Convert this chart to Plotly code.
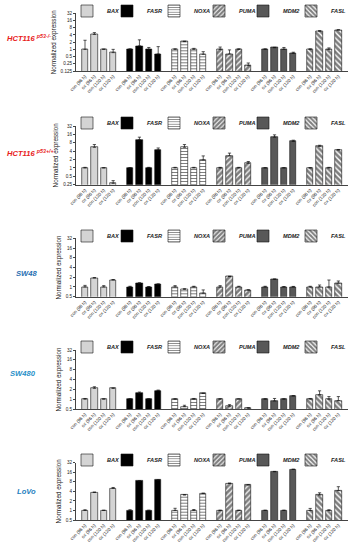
import math
import plotly.graph_objects as go

# ---------------- data ----------------
genes = ["BAX", "FASR", "NOXA", "PUMA", "MDM2", "FASL"]
conditions = ["con (96 h)", "ox (96 h)", "con (120 h)", "ox (120 h)"]
cell_lines = ["HCT116 <sup>p53-/-</sup>", "HCT116 <sup>p53+/+</sup>", "SW48", "SW480", "LoVo"]
label_colors = ["#e8211b", "#e8211b", "#1f6fb2", "#1f8fc8", "#1f7fc0"]

# mean expression per gene (rows) and condition (columns)
hct116_ko_mean = [
    [1.0, 4.2, 1.0, 0.73],
    [1.0, 1.4, 1.0, 0.64],
    [1.0, 2.1, 1.0, 0.62],
    [1.0, 0.64, 1.0, 0.21],
    [1.0, 1.17, 1.0, 0.68],
    [1.0, 5.8, 1.0, 6.4],
]
hct116_ko_top = [
    [2.4, 5.0, 1.03, 1.0],
    [1.05, 2.5, 1.2, 1.3],
    [1.05, 2.2, 1.1, 0.8],
    [1.25, 0.95, 1.05, 0.27],
    [1.05, 1.22, 1.2, 0.76],
    [1.05, 6.0, 1.15, 6.6],
]
hct116_wt_mean = [
    [1.0, 5.5, 1.0, 0.28],
    [1.0, 10.2, 1.0, 4.4],
    [1.0, 5.5, 1.0, 1.94],
    [1.0, 2.7, 1.0, 1.47],
    [1.0, 12.7, 1.0, 8.9],
    [1.0, 5.9, 1.0, 4.4],
]
hct116_wt_top = [
    [1.05, 6.9, 1.02, 0.35],
    [1.02, 12.7, 1.05, 5.2],
    [1.05, 6.9, 1.05, 2.7],
    [1.05, 3.4, 1.05, 1.7],
    [1.02, 15.4, 1.02, 9.9],
    [1.02, 6.5, 1.05, 4.6],
]
sw48_mean = [
    [1.0, 1.9, 1.0, 1.64],
    [1.0, 1.3, 1.0, 1.2],
    [1.0, 0.85, 1.0, 0.64],
    [1.0, 2.1, 1.0, 0.8],
    [1.0, 1.72, 1.0, 1.0],
    [1.0, 1.0, 1.0, 1.3],
]
sw48_top = [
    [1.12, 1.95, 1.1, 1.7],
    [1.05, 1.35, 1.03, 1.25],
    [1.1, 0.88, 1.05, 0.81],
    [1.1, 2.15, 1.05, 0.82],
    [1.05, 1.77, 1.03, 1.04],
    [1.05, 1.15, 1.64, 1.53],
]
sw480_mean = [
    [1.0, 2.15, 1.0, 2.15],
    [1.0, 1.5, 1.0, 1.82],
    [1.0, 0.59, 1.0, 1.5],
    [1.0, 0.61, 1.0, 0.53],
    [1.0, 0.88, 1.0, 1.25],
    [1.0, 1.37, 1.0, 0.9],
]
sw480_top = [
    [1.05, 2.4, 1.03, 2.2],
    [1.03, 1.65, 1.03, 1.9],
    [1.03, 0.65, 1.05, 1.53],
    [1.03, 0.68, 1.02, 0.55],
    [1.03, 1.05, 1.03, 1.28],
    [1.05, 1.8, 1.2, 1.2],
]
lovo_mean = [
    [1.0, 3.7, 1.0, 4.96],
    [1.0, 8.4, 1.0, 9.1],
    [1.0, 3.06, 1.0, 3.45],
    [1.0, 7.1, 1.0, 6.3],
    [1.0, 16.6, 1.0, 19.6],
    [1.0, 3.06, 1.0, 4.2],
]
lovo_top = [
    [1.05, 3.8, 1.02, 5.3],
    [1.05, 8.6, 1.02, 9.2],
    [1.17, 3.15, 1.07, 3.5],
    [1.02, 7.3, 1.02, 6.5],
    [1.02, 17.0, 1.02, 20.0],
    [1.16, 3.6, 1.05, 5.6],
]
panel_means = [hct116_ko_mean, hct116_wt_mean, sw48_mean, sw480_mean, lovo_mean]
panel_tops = [hct116_ko_top, hct116_wt_top, sw48_top, sw480_top, lovo_top]
panel_ymin = [0.125, 0.25, 0.5, 0.5, 0.5]
ymax = 32
y_tickvals = [0.125, 0.25, 0.5, 1, 2, 4, 8, 16, 32]
y_ticktext = ["0.125", "0.25", "0.5", "1", "2", "4", "8", "16", "32"]

# ---------------- styling ----------------
W, H = 352, 550
FONT = "Arial, Liberation Sans, sans-serif"
gene_style = {
    "BAX": dict(color="#d4d4d4", pattern=None),
    "FASR": dict(color="#000000", pattern=None),
    "NOXA": dict(color="#ffffff", pattern=dict(shape="-", fgcolor="#000000", bgcolor="#ffffff", size=3, solidity=0.35)),
    "PUMA": dict(color="#ffffff", pattern=dict(shape="/", fgcolor="#000000", bgcolor="#ffffff", size=4, solidity=0.7)),
    "MDM2": dict(color="#585858", pattern=None),
    "FASL": dict(color="#ffffff", pattern=dict(shape="\\", fgcolor="#000000", bgcolor="#ffffff", size=4, solidity=0.65)),
}
GROUP_STEP = 4.8
x_range = [-0.96, 28.03]
# plot areas in pixels (top, bottom)
panel_px = [(13.3, 71.0), (126.0, 184.7), (238.3, 296.7), (350.0, 409.0), (462.7, 520.0)]
legend_px = [11, 123, 236, 347, 460]
label_px = [38, 153, 273, 373, 491]
label_x = [5, 5, 14, 8, 15]
x_left_px, x_right_px = 76, 348
legend_text_px = [103, 143, 190, 235, 279, 327]

fig = go.Figure()
layout = dict(
    width=W, height=H, margin=dict(l=0, r=0, t=0, b=0, autoexpand=False),
    paper_bgcolor="white", plot_bgcolor="white",
    font=dict(family=FONT, size=6, color="#222"),
    bargap=0, barmode="overlay", showlegend=True,
)
positions = [g * GROUP_STEP + j for g in range(len(genes)) for j in range(len(conditions))]
ticktext = [c for g in genes for c in conditions]
annotations = []
leg_i = 0
for p in range(5):
    sx = "" if p == 0 else str(p + 1)
    for g, gene in enumerate(genes):
        st = gene_style[gene]
        mean = panel_means[p][g]
        top = panel_tops[p][g]
        plus = [max(t - m, 0) for t, m in zip(top, mean)]
        leg_i += 1
        lname = "legend" if leg_i == 1 else f"legend{leg_i}"
        marker = dict(color=st["color"], line=dict(color="#111", width=0.6))
        if st["pattern"]:
            marker["pattern"] = st["pattern"]
        fig.add_trace(go.Bar(
            x=[g * GROUP_STEP + j for j in range(len(conditions))],
            y=mean,
            width=0.68,
            name=gene,
            marker=marker,
            error_y=dict(type="data", symmetric=False, array=plus,
                         arrayminus=[0] * len(plus), color="#111", thickness=0.7, width=1.6),
            xaxis="x" + sx, yaxis="y" + sx,
            legend=lname,
            showlegend=True,
        ))
        layout[lname] = dict(
            x=(legend_text_px[g] - 36) / W, xanchor="left",
            y=1 - legend_px[p] / H, yanchor="middle",
            orientation="h", bgcolor="rgba(0,0,0,0)", borderwidth=0,
            font=dict(family=FONT, size=5.6, style="italic", weight="bold", color="#222"),
            itemwidth=30, itemclick=False,
        )
    top_px, bot_px = panel_px[p]
    dom_y = [1 - bot_px / H, 1 - top_px / H]
    layout["xaxis" + sx] = dict(
        domain=[x_left_px / W, x_right_px / W], range=x_range, anchor="y" + sx,
        tickmode="array", tickvals=positions, ticktext=ticktext, tickangle=-45,
        tickfont=dict(size=4.6, family=FONT, color="#222"),
        showline=True, linecolor="#444", linewidth=1, ticks="", showgrid=False,
        zeroline=False, fixedrange=True,
    )
    ymin = panel_ymin[p]
    tv = [v for v in y_tickvals if v >= ymin]
    tt = [t for v, t in zip(y_tickvals, y_ticktext) if v >= ymin]
    layout["yaxis" + sx] = dict(
        domain=dom_y, type="log", range=[math.log10(ymin), math.log10(ymax)],
        anchor="x" + sx, tickmode="array", tickvals=tv, ticktext=tt,
        tickfont=dict(size=4.6, family=FONT, color="#222"),
        showline=True, linecolor="#444", linewidth=1, ticks="outside",
        ticklen=2, tickcolor="#444", showgrid=False, zeroline=False,
        title=dict(text="Normalized expression", font=dict(size=6.3, family=FONT, color="#222"), standoff=3),
        fixedrange=True,
    )
    annotations.append(dict(
        text=f"<b><i>{cell_lines[p]}</i></b>", xref="paper", yref="paper",
        x=label_x[p] / W, y=1 - label_px[p] / H, xanchor="left", yanchor="middle",
        showarrow=False, font=dict(family=FONT, size=7.6, color=label_colors[p]),
    ))
layout["annotations"] = annotations
fig.update_layout(**layout)
fig.write_html(
    "out.html",
    config={"displayModeBar": False},
    post_script="document.body.style.margin='0px';document.body.style.overflow='hidden';",
)
